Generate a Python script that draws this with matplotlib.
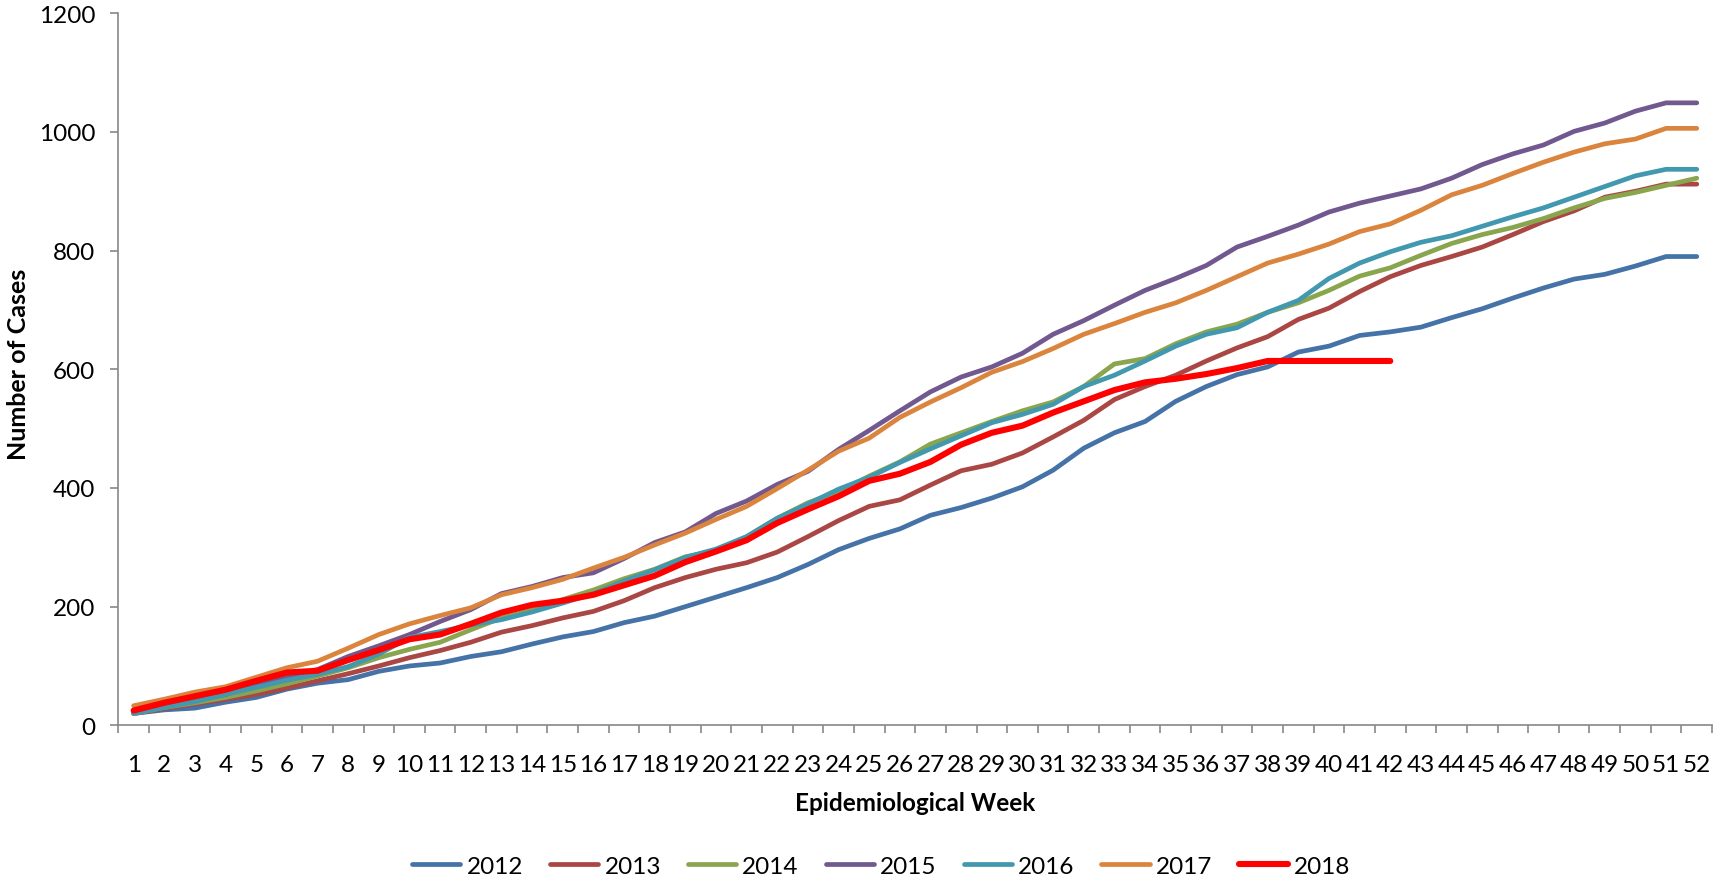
import numpy as np
import matplotlib
matplotlib.use('Agg')
import matplotlib.pyplot as plt

plt.rcParams['font.family'] = ['Lato', 'DejaVu Sans']

weeks = np.arange(1, 53)

c2012 = [20, 26, 29, 39, 47, 61, 71, 77, 91, 100, 105, 116, 124, 137, 149, 158, 173, 184, 200, 216,
         232, 249, 271, 296, 315, 331, 354, 367, 383, 402, 430, 467, 493, 512, 546, 571, 591, 604, 629, 639,
         657, 663, 671, 687, 702, 720, 737, 752, 760, 774, 790, 790]
c2013 = [20, 28, 36, 44, 52, 63, 75, 87, 100, 114, 126, 140, 157, 168, 181, 192, 210, 232, 249, 263,
         274, 292, 318, 345, 369, 380, 405, 429, 440, 459, 486, 514, 549, 571, 590, 614, 636, 655, 684, 703,
         731, 756, 775, 790, 806, 827, 849, 867, 890, 900, 912, 912]
c2014 = [20, 30, 38, 47, 58, 70, 83, 97, 114, 128, 140, 161, 181, 194, 212, 228, 247, 263, 284, 294,
         318, 349, 375, 394, 420, 444, 474, 493, 512, 530, 545, 571, 609, 618, 643, 663, 676, 696, 712, 733,
         757, 771, 792, 812, 827, 839, 854, 872, 888, 898, 910, 922]
c2015 = [22, 32, 42, 52, 68, 82, 94, 116, 134, 153, 175, 195, 222, 234, 249, 257, 281, 308, 326, 357,
         378, 406, 428, 465, 497, 530, 562, 587, 604, 627, 659, 682, 708, 733, 753, 775, 806, 824, 843, 865,
         880, 892, 904, 922, 945, 963, 978, 1001, 1015, 1035, 1049, 1049]
c2016 = [20, 30, 40, 52, 64, 76, 86, 99, 120, 148, 158, 169, 178, 191, 206, 222, 243, 262, 283, 297,
         318, 349, 373, 398, 418, 443, 466, 488, 510, 524, 541, 571, 590, 614, 639, 659, 670, 696, 716, 753,
         779, 798, 814, 825, 841, 857, 872, 890, 908, 926, 937, 937]
c2017 = [33, 44, 56, 65, 81, 97, 108, 130, 153, 171, 185, 198, 220, 232, 246, 265, 283, 304, 324, 347,
         369, 399, 430, 462, 484, 519, 545, 569, 595, 613, 635, 659, 677, 696, 712, 733, 756, 779, 794, 811,
         832, 845, 868, 894, 910, 930, 949, 966, 980, 988, 1006, 1006]
c2018 = [25, 38, 49, 60, 75, 89, 92, 110, 127, 145, 153, 171, 190, 203, 210, 220, 236, 252, 275, 293,
         312, 341, 364, 386, 412, 424, 444, 473, 493, 505, 527, 546, 565, 578, 584, 592, 602, 614, 614, 614,
         614, 614]

years = ['2012', '2013', '2014', '2015', '2016', '2017', '2018']
series = [c2012, c2013, c2014, c2015, c2016, c2017, c2018]
colors = ['#4572A7', '#AA4643', '#89A54E', '#71588F', '#4198AF', '#DB843D', '#FF0000']

fig = plt.figure(figsize=(17.15, 8.79), dpi=100)
ax = fig.add_axes([0.069, 0.1737, 0.9293, 0.8101])

for yr, vals, col in zip(years, series, colors):
	lw = 4.4 if yr == '2018' else 3.4
	ax.plot(weeks[:len(vals)], vals, color=col, lw=lw, label=yr,
		solid_capstyle='round', solid_joinstyle='round')

ax.set_xlim(0.5, 52.5)
ax.set_ylim(0, 1200)
ax.set_yticks(range(0, 1201, 200))
ax.set_xticks(weeks)
ax.set_xticks(np.arange(0.5, 53, 1), minor=True)

for s in ['top', 'right']:
	ax.spines[s].set_visible(False)
for s in ['left', 'bottom']:
	ax.spines[s].set_color('#888888')
	ax.spines[s].set_linewidth(1.2)

ax.tick_params(axis='x', which='major', length=0, pad=21, labelsize=17.5)
ax.tick_params(axis='x', which='minor', length=5.5, width=1.2, color='#888888', direction='out')
ax.tick_params(axis='y', length=5.5, width=1.2, color='#888888', pad=11, labelsize=17.5)

fig.text(19/1715, 0.586, 'Number of Cases', rotation=90, ha='center', va='center',
	fontsize=18, fontweight='bold')
fig.text(915/1715, 1 - 804/879, 'Epidemiological Week', ha='center', va='center',
	fontsize=17.5, fontweight='bold')

fig.legend(loc='center', bbox_to_anchor=(881/1715, 1 - 867/879), ncol=7, frameon=False,
	fontsize=17.5, handlelength=2.0, handletextpad=0.25, columnspacing=1.1)

plt.savefig('out.png', dpi=100)
